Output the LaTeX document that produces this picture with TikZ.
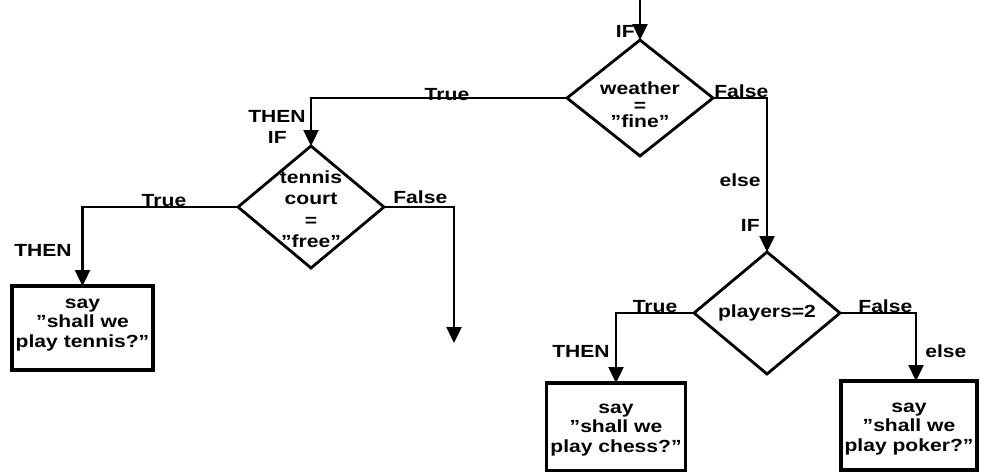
\documentclass[tikz,border=0pt]{standalone}
\usepackage{fontspec}
\setmainfont{Liberation Sans}[FakeStretch=1.2]
\usetikzlibrary{shapes.geometric,arrows.meta}
\tikzset{
  dia/.style={diamond,draw,line width=1.6pt,inner sep=0pt,outer sep=0pt},
  dtext/.style={align=center,font=\bfseries\fontsize{10}{#1}\selectfont,inner sep=0pt},
  sbox/.style={draw,line width=2pt,inner sep=0pt,outer sep=0pt},
  conn/.style={line width=1.3pt,-{Triangle[width=0.3cm,length=0.32cm]}},
  lab/.style={font=\bfseries\fontsize{10}{12}\selectfont,inner sep=0pt},
}
\begin{document}
\begin{tikzpicture}[x=0.02cm,y=-0.02cm]
\useasboundingbox (0,0) rectangle (982,471);
% diamonds
\node[dia,minimum width=2.92cm,minimum height=2.32cm] (weather) at (640,98) {};
\node[dia,minimum width=2.92cm,minimum height=2.44cm] (tennis) at (311,207) {};
\node[dia,minimum width=2.92cm,minimum height=2.44cm] (players) at (767,313) {};
\node[dtext=9.4] (tw) at (640,105) {weather\\=\\”fine”};
\node[dtext=12.2] (tt) at (311,209) {tennis\\court\\=\\”free”};
\node[dtext=12] (tp) at (767,313) {players=2};
% boxes
\node[sbox,minimum width=2.82cm,minimum height=1.68cm] (tbox) at (82.5,328) {};
\node[sbox,minimum width=2.78cm,minimum height=1.76cm] (cbox) at (616,427) {};
\node[sbox,minimum width=2.72cm,minimum height=1.78cm] (pbox) at (909,425.5) {};
\node[dtext=11.1] (tbt) at (82.5,325) {say\\”shall we\\play tennis?”};
\node[dtext=11.1] (cbt) at (616,430) {say\\”shall we\\play chess?”};
\node[dtext=11.1] (pbt) at (909,429) {say\\”shall we\\play poker?”};
% free ends
\coordinate (start) at (640,0);
\coordinate (fend) at (454,343);
% connectors
\draw[conn] (start) -- (weather.north);
\draw[conn] (weather.west) -| (tennis.north);
\draw[conn] (weather.east) -| (players.north);
\draw[conn] (tennis.east) -| (fend);
\draw[conn] (tennis.west) -| (tbox.north);
\draw[conn] (players.west) -| (cbox.north);
\draw[conn] (players.east) -| ([xshift=0.14cm]pbox.north);
% labels
\node[lab,anchor=base east] (l1) at (635,37) {IF};
\node[lab,anchor=base] (l2) at (447,100) {True};
\node[lab,anchor=base west] (l3) at (714,97) {False};
\node[lab,anchor=base east] (l4) at (761,186) {else};
\node[lab,anchor=base east] (l5) at (760,231) {IF};
\node[lab,anchor=base east] (l6) at (306,122) {THEN};
\node[lab,anchor=base east] (l7) at (287,143) {IF};
\node[lab,anchor=base west] (l8) at (393,203) {False};
\node[lab,anchor=base] (l9) at (164,206) {True};
\node[lab,anchor=base east] (l10) at (72,256) {THEN};
\node[lab,anchor=base] (l11) at (655,312) {True};
\node[lab,anchor=base west] (l12) at (858,312) {False};
\node[lab,anchor=base east] (l13) at (610,357) {THEN};
\node[lab,anchor=base west] (l14) at (925,357) {else};
\end{tikzpicture}
\end{document}
